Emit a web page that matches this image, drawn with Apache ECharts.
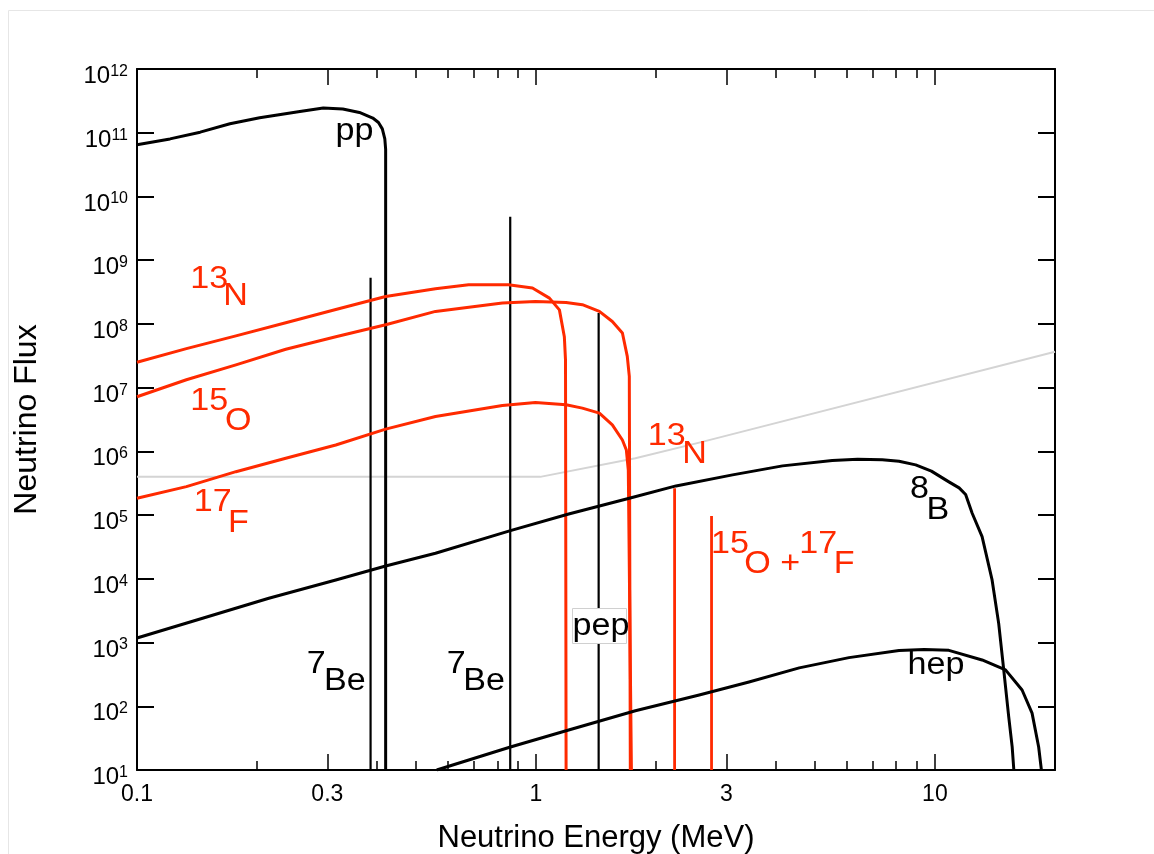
<!DOCTYPE html>
<html>
<head>
<meta charset="utf-8">
<script src="https://cdn.jsdelivr.net/npm/echarts@6/dist/echarts.min.js"></script>
<style>
html,body{margin:0;padding:0;background:#fff;}
#chart{width:1154px;height:854px;}
</style>
</head>
<body>
<div id="chart"></div>
<script>
// ---------------- data ----------------
const xTickLabels = ['0.1', '0.3', '1', '3', '10'];
const xMinorTicks = [0.2, 0.4, 0.5, 0.6, 0.7, 0.8, 0.9, 2, 4, 5, 6, 7, 8, 9];
const yTickExponents = [1, 2, 3, 4, 5, 6, 7, 8, 9, 10, 11, 12];

// pp continuum
const ppEnergy = [0.1, 0.121, 0.144, 0.171, 0.203, 0.256, 0.293, 0.328, 0.361, 0.390, 0.403, 0.412, 0.418, 0.420, 0.420];
const ppFlux   = [6.5e10, 8.0e10, 1.02e11, 1.38e11, 1.72e11, 2.16e11, 2.44e11, 2.36e11, 2.08e11, 1.70e11, 1.45e11, 1.15e11, 8.0e10, 5.5e10, 10];

// 13N continuum
const n13Energy = [0.1, 0.133, 0.177, 0.236, 0.315, 0.420, 0.560, 0.678, 0.853, 0.980, 1.081, 1.145, 1.178, 1.186, 1.19];
const n13Flux   = [2.5e7, 4.1e7, 6.5e7, 1.04e8, 1.68e8, 2.69e8, 3.56e8, 4.1e8, 4.1e8, 3.65e8, 2.54e8, 1.66e8, 6.3e7, 2.7e7, 10];

// 15O continuum
const o15Energy = [0.1, 0.133, 0.177, 0.236, 0.315, 0.420, 0.560, 0.824, 0.997, 1.19, 1.307, 1.442, 1.554, 1.647, 1.694, 1.714, 1.724];
const o15Flux   = [7.2e6, 1.33e7, 2.28e7, 4.0e7, 6.3e7, 9.7e7, 1.57e8, 2.12e8, 2.25e8, 2.17e8, 2.0e8, 1.57e8, 1.09e8, 7.2e7, 3.1e7, 1.5e7, 10];

// 17F continuum
const f17Energy = [0.1, 0.133, 0.177, 0.236, 0.315, 0.420, 0.560, 0.824, 0.997, 1.19, 1.307, 1.442, 1.554, 1.647, 1.685, 1.694, 1.704, 1.735];
const f17Flux   = [1.84e5, 2.8e5, 4.8e5, 7.8e5, 1.26e6, 2.23e6, 3.52e6, 5.24e6, 5.83e6, 5.37e6, 4.77e6, 3.98e6, 2.61e6, 1.51e6, 1.05e6, 7.4e5, 5.1e5, 10];

// 8B continuum
const b8Energy = [0.1, 0.146, 0.214, 0.315, 0.420, 0.560, 0.863, 1.208, 1.714, 2.244, 3.11, 4.15, 5.53, 6.4, 7.38, 8.13, 8.95, 9.8, 10.84, 11.5, 11.94, 12.4, 13.13, 13.91, 14.45, 14.88, 15.31, 15.62, 15.77];
const b8Flux   = [1.18e3, 2.41e3, 4.96e3, 9.6e3, 1.59e4, 2.52e4, 5.7e4, 1.04e5, 1.84e5, 2.87e5, 4.28e5, 5.92e5, 7.2e5, 7.5e5, 7.4e5, 7.0e5, 6.14e5, 4.9e5, 3.32e5, 2.67e5, 2.1e5, 1.07e5, 4.6e4, 9.6e3, 2.0e3, 3.7e2, 69, 23, 10];

// hep continuum
const hepEnergy = [0.564, 0.863, 1.208, 1.775, 2.566, 3.42, 4.57, 6.09, 8.13, 9.4, 10.84, 13.13, 15.03, 16.54, 17.52, 18.2, 18.49];
const hepFlux   = [10, 23, 42.5, 85, 150, 240, 400, 580, 750, 775, 754, 533, 372, 180, 78, 23, 10];

// mono-energetic lines
const lineNames  = ['7Be 0.384', '7Be 0.862', 'pep', '13N line', '15O+17F line'];
const lineEnergy = [0.385, 0.862, 1.436, 2.226, 2.755];
const lineFlux   = [5.3e8, 4.8e9, 1.48e8, 2.64e5, 9.7e4];
const lineIsCNO  = [false, false, false, true, true];

// faint grey trace present in the scanned figure
const traceEnergy = [0.1, 1.025, 1.775, 2.566, 20];
const traceFlux   = [3.98e5, 3.98e5, 7.8e5, 1.37e6, 3.65e7];

// ---------------- chart ----------------
const FONT = '"Liberation Sans", Arial, Helvetica, sans-serif';
const RED = '#ff2a00';
const BLACK = '#000000';
const xMin = 0.1, xMax = 20, yMin = 10, yMax = 1e12;
const lx = v => Math.log10(v);
const xTickVals = xTickLabels.map(s => lx(parseFloat(s)));
const xMinorVals = xMinorTicks.map(lx);

function pairs(E, F) { return E.map((e, i) => [e, F[i]]); }
function curve(name, E, F, color, width, z) {
  return {
    type: 'line', name, data: pairs(E, F), xAxisIndex: 0, yAxisIndex: 0,
    showSymbol: false, symbol: 'none', silent: true, z: z || 3,
    lineStyle: { color, width, join: 'round' }, itemStyle: { color }
  };
}

const series = [
  curve('trace', traceEnergy, traceFlux, '#d4d4d4', 2, 1),
  curve('pp', ppEnergy, ppFlux, BLACK, 3),
  curve('13N', n13Energy, n13Flux, RED, 3),
  curve('15O', o15Energy, o15Flux, RED, 3),
  curve('17F', f17Energy, f17Flux, RED, 3),
  curve('8B', b8Energy, b8Flux, BLACK, 3),
  curve('hep', hepEnergy, hepFlux, BLACK, 3)
];
lineEnergy.forEach((e, i) => {
  series.push(curve(lineNames[i], [e, e], [yMin, lineFlux[i]], lineIsCNO[i] ? RED : BLACK, lineIsCNO[i] ? 2.8 : 2.2, 2));
});

const axisLineStyle = { show: true, onZero: false, lineStyle: { color: BLACK, width: 2 } };
function xTickAxis(position, vals, len, withLabels) {
  const ax = {
    type: 'value', position, min: lx(xMin), max: lx(xMax),
    axisLine: len > 12 ? axisLineStyle : { show: false, onZero: false },
    splitLine: { show: false },
    axisTick: { show: true, inside: true, length: len, customValues: vals, lineStyle: { color: BLACK, width: 1.5 } },
    axisLabel: { show: false }
  };
  if (withLabels) {
    ax.axisLabel = {
      show: true, customValues: xTickVals, margin: 13,
      color: BLACK, fontSize: 23, fontFamily: FONT,
      formatter: v => {
        const i = xTickVals.findIndex(t => Math.abs(t - v) < 1e-9);
        return i >= 0 ? xTickLabels[i] : '';
      }
    };
    ax.name = 'Neutrino Energy (MeV)';
    ax.nameLocation = 'middle';
    ax.nameGap = 53;
    ax.nameTextStyle = { color: BLACK, fontSize: 31, fontFamily: FONT };
  }
  return ax;
}

const option = {
  animation: false,
  backgroundColor: '#ffffff',
  grid: { left: 137, right: 99, top: 69, bottom: 84, containLabel: false, outerBoundsMode: 'none' },
  xAxis: [
    { type: 'log', logBase: 10, min: xMin, max: xMax, show: false, axisLine: { onZero: false } },
    xTickAxis('bottom', xTickVals, 16, true),
    xTickAxis('bottom', xMinorVals, 9, false),
    xTickAxis('top', xTickVals, 16, false),
    xTickAxis('top', xMinorVals, 9, false)
  ],
  yAxis: [
    { type: 'log', logBase: 10, min: yMin, max: yMax, show: false, axisLine: { onZero: false } },
    {
      type: 'value', position: 'left', min: 1, max: 12, interval: 1,
      axisLine: axisLineStyle, splitLine: { show: false },
      axisTick: { show: true, inside: true, length: 17, lineStyle: { color: BLACK, width: 2 } },
      axisLabel: {
        show: true, margin: 9, padding: [15, 0, 0, 0],
        customValues: yTickExponents,
        formatter: v => '{b|10}{s|' + v + '}',
        rich: {
          b: { fontSize: 24, lineHeight: 26, fontFamily: FONT, color: BLACK },
          s: { fontSize: 16, lineHeight: 11, verticalAlign: 'top', fontFamily: FONT, color: BLACK }
        }
      },
      name: 'Neutrino Flux', nameLocation: 'middle', nameGap: 94,
      nameTextStyle: { color: BLACK, fontSize: 32, fontFamily: FONT }
    },
    {
      type: 'value', position: 'right', min: 1, max: 12, interval: 1,
      axisLine: axisLineStyle, splitLine: { show: false },
      axisTick: { show: true, inside: true, length: 17, lineStyle: { color: BLACK, width: 2 } },
      axisLabel: { show: false }
    }
  ],
  series,
  graphic: []
};

// text labels
function label(text, x, y, color) {
  return {
    type: 'text', x, y, scaleX: 1.1, z: 100, silent: true,
    style: {
      text, x: 0, y: 0, fill: color, font: '31px ' + FONT,
      align: 'left', verticalAlign: 'middle', textAlign: 'left', textVerticalAlign: 'middle'
    }
  };
}
option.graphic = [
  { type: 'rect', z: -1, silent: true, shape: { x: 8.5, y: 10.5, width: 1200, height: 900 }, style: { fill: 'none', stroke: '#e6e6e6', lineWidth: 1 } },
  { type: 'rect', z: 99, silent: true, shape: { x: 572.5, y: 608.5, width: 54, height: 35 }, style: { fill: '#ffffff', stroke: '#d0d0d0', lineWidth: 1 } },
  label('pp', 335.5, 131.0, BLACK),
  label('13', 190.3, 279.3, RED),
  label('N', 223.2, 296.3, RED),
  label('15', 190.3, 401.0, RED),
  label('O', 225.0, 421.3, RED),
  label('17', 193.7, 502.6, RED),
  label('F', 228.0, 523.3, RED),
  label('7', 306.8, 664.3, BLACK),
  label('Be', 324.0, 681.0, BLACK),
  label('7', 446.7, 664.3, BLACK),
  label('Be', 463.3, 681.0, BLACK),
  label('pep', 572.5, 626.3, BLACK),
  label('13', 647.7, 436.0, RED),
  label('N', 682.2, 454.3, RED),
  label('15', 711.0, 544.1, RED),
  label('O +', 744.2, 564.7, RED),
  label('17', 799.3, 544.1, RED),
  label('F', 833.7, 564.7, RED),
  label('8', 910.1, 489.3, BLACK),
  label('B', 926.6, 510.2, BLACK),
  label('hep', 907.6, 665.3, BLACK)
];

const chart = echarts.init(document.getElementById('chart'), null, { renderer: 'canvas' });
chart.setOption(option);
</script>
</body>
</html>
